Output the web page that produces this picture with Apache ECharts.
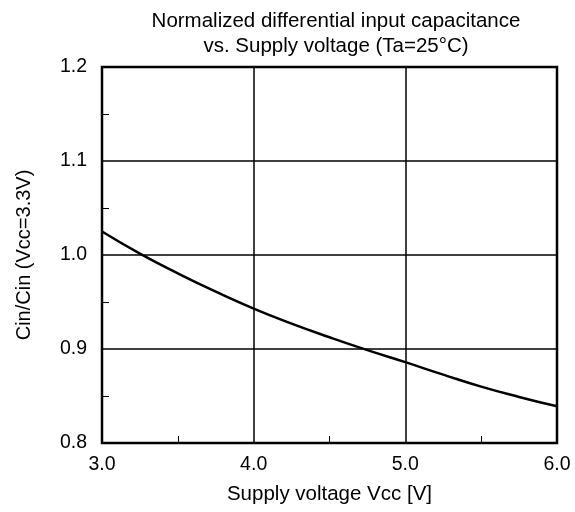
<!DOCTYPE html>
<html>
<head>
<meta charset="utf-8">
<script src="https://cdn.jsdelivr.net/npm/echarts@6/dist/echarts.min.js"></script>
<style>
  html, body { margin: 0; padding: 0; background: #fff; }
  #main { width: 575px; height: 512px; }
</style>
</head>
<body>
<div id="main"></div>
<script>
// supply voltage (V) and normalized capacitance
const voltage = [3.0, 3.25, 3.5, 3.75, 4.0, 4.25, 4.5, 4.75, 5.0, 5.25, 5.5, 5.75, 6.0];
const capRatio = [1.025, 1.0015, 0.9805, 0.961, 0.943, 0.927, 0.9125, 0.8988, 0.886, 0.8727, 0.860, 0.849, 0.839];

const chartDom = document.getElementById('main');
const myChart = echarts.init(chartDom);
const font = 'Liberation Sans, Arial, sans-serif';

const option = {
  animation: false,
  title: {
    text: 'Normalized differential input capacitance\nvs. Supply voltage (Ta=25°C)',
    left: 331,
    textAlign: 'center',
    top: 4,
    textStyle: { fontFamily: font, fontSize: 20.5, fontWeight: 'normal', color: '#000', lineHeight: 25 }
  },
  grid: {
    left: 102, right: 18, top: 67, bottom: 69,
    show: true, borderColor: '#000', borderWidth: 2.5
  },
  xAxis: {
    type: 'value',
    min: 3, max: 6, interval: 1,
    name: 'Supply voltage Vcc [V]',
    nameLocation: 'middle',
    nameGap: 41,
    nameTextStyle: { fontFamily: font, fontSize: 20.5, color: '#000' },
    axisLine: { show: false },
    axisTick: { show: false, inside: true },
    minorTick: { show: true, splitNumber: 2, length: 7, lineStyle: { color: '#000', width: 1 } },
    axisLabel: { fontFamily: font, fontSize: 19.5, color: '#000', margin: 12, formatter: v => v.toFixed(1) },
    splitLine: { show: true, lineStyle: { color: '#000', width: 1.5 } }
  },
  yAxis: {
    type: 'value',
    min: 0.8, max: 1.2, interval: 0.1,
    name: 'Cin/Cin (Vcc=3.3V)',
    nameLocation: 'middle',
    nameGap: 68,
    nameTextStyle: { fontFamily: font, fontSize: 20, color: '#000' },
    axisLine: { show: false },
    axisTick: { show: false, inside: true },
    minorTick: { show: true, splitNumber: 2, length: 7, lineStyle: { color: '#000', width: 1 } },
    axisLabel: { fontFamily: font, fontSize: 19.5, color: '#000', margin: 15, formatter: v => v.toFixed(1) },
    splitLine: { show: true, lineStyle: { color: '#000', width: 1.5 } }
  },
  series: [
    {
      type: 'line',
      smooth: true,
      symbol: 'none',
      data: voltage.map((v, i) => [v, capRatio[i]]),
      lineStyle: { color: '#000', width: 2.5 }
    }
  ]
};

option && myChart.setOption(option);
</script>
</body>
</html>
